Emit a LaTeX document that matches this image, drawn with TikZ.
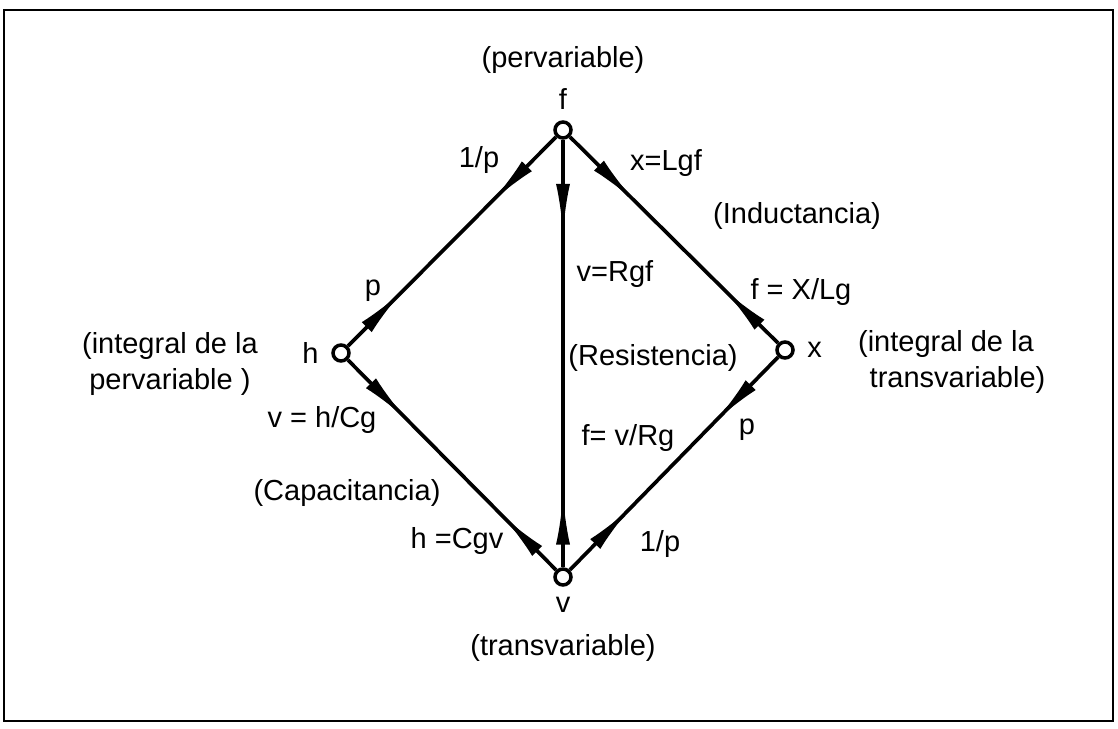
\documentclass[tikz,border=0pt]{standalone}
\usepackage{fontspec}
\setmainfont{Liberation Sans}
\usetikzlibrary{arrows.meta,decorations.markings,positioning}
\tikzset{
  pt/.style={circle,draw,fill=white,line width=2pt,inner sep=0pt,minimum size=0.32cm},
  lbl/.style={font=\fontsize{16.5}{20}\selectfont,inner sep=1pt},
  edge/.style={line width=2.1pt},
  biarrow/.style 2 args={postaction={decorate},decoration={markings,
      mark=at position #1 with {\arrow{Latex[length=10mm,width=2.8mm]}},
      mark=at position #2 with {\arrowreversed{Latex[length=10mm,width=2.8mm]}}}}
}
\begin{document}
\begin{tikzpicture}[x=0.02cm,y=-0.02cm]
	\useasboundingbox (0,0) rectangle (1118,729);
	\draw[line width=1.2pt] (4,10) rectangle (1113,721); %marco
	% vertices
	\node[pt] (f) at (563,130) {};
	\node[pt] (h) at (341,353) {};
	\node[pt] (x) at (785,350) {};
	\node[pt] (v) at (563,577) {};
	% aristas
	\draw[edge,biarrow={0.31}{0.74}] (f) -- (h);
	\draw[edge,biarrow={0.31}{0.74}] (f) -- (x);
	\draw[edge,biarrow={0.22}{0.83}] (f) -- (v);
	\draw[edge,biarrow={0.28}{0.74}] (h) -- (v);
	\draw[edge,biarrow={0.3}{0.71}] (x) -- (v);
	% nombres de los vertices
	\node[lbl,above=5pt of f] (nf) {f};
	\node[lbl,above=6pt of nf] {(pervariable)};
	\node[lbl,left=6pt of h] {h};
	\node[lbl,right=6pt of x] {x};
	\node[lbl,below=5pt of v] (nv) {v};
	\node[lbl,below=10pt of nv] {(transvariable)};
	\node[lbl,align=left,anchor=west] (ih) at (80,364) {(integral de la\\ \hspace{0.25em}pervariable )};
	\node[lbl,align=left,anchor=west] (ix) at (856,362) {(integral de la\\ \hspace{0.4em}transvariable)};
	% relaciones
	\node[lbl] (l1) at (479,160) {1/p};
	\node[lbl] (l2) at (373,291) {p};
	\node[lbl] (l3) at (666,163) {x=Lgf};
	\node[lbl] (l4) at (797,216) {(Inductancia)};
	\node[lbl] (l5) at (801,292) {f = X/Lg};
	\node[lbl] (l6) at (615,274) {v=Rgf};
	\node[lbl] (l7) at (653,358) {(Resistencia)};
	\node[lbl] (l8) at (628,438) {f= v/Rg};
	\node[lbl] (l9) at (322,420) {v = h/Cg};
	\node[lbl] (l10) at (347,493) {(Capacitancia)};
	\node[lbl] (l11) at (457,541) {h =Cgv};
	\node[lbl] (l12) at (747,430) {p};
	\node[lbl] (l13) at (660,544) {1/p};
\end{tikzpicture}
\end{document}
